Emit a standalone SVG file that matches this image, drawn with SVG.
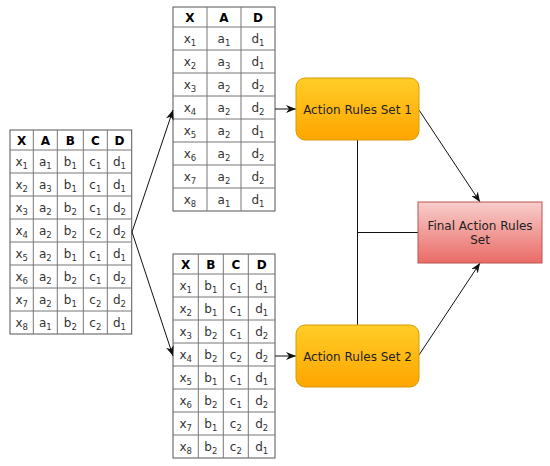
<svg xmlns="http://www.w3.org/2000/svg" width="550" height="466" viewBox="0 0 550 466">
<defs>
<style>
.tb{fill:#fff;stroke:#555;stroke-width:1}
.gl{stroke:#777;stroke-width:1}
.h{font-family:"DejaVu Sans",Verdana,sans-serif;font-size:12px;font-weight:bold;fill:#000;text-anchor:middle}
.c{font-family:"DejaVu Sans",Verdana,sans-serif;font-size:12px;fill:#333;text-anchor:middle}
.s{font-size:8.5px}
.lbl{font-family:"DejaVu Sans",Verdana,sans-serif;font-size:12px;fill:#222;text-anchor:middle}
.cn{fill:none;stroke:#111;stroke-width:1}
</style>
<linearGradient id="gO" x1="0" y1="0" x2="0" y2="1"><stop offset="0" stop-color="#ffcd28"/><stop offset="1" stop-color="#ffa500"/></linearGradient>
<linearGradient id="gR" x1="0" y1="0" x2="0" y2="1"><stop offset="0" stop-color="#f8cecc"/><stop offset="1" stop-color="#ea6b66"/></linearGradient>
<marker id="arr" viewBox="0 0 10 8" refX="10" refY="4" markerWidth="10" markerHeight="8" orient="auto" markerUnits="userSpaceOnUse"><path d="M0,0 L10,4 L0,8 L3,4 z" fill="#111"/></marker>
</defs>

<g id="table-full">
<rect class="tb" x="10" y="130" width="121.7" height="204"/>
<path class="gl" d="M33.3,130V334M57.3,130V334M83.3,130V334M107.3,130V334M10,150H131.7M10,173H131.7M10,196H131.7M10,219H131.7M10,242H131.7M10,265H131.7M10,288H131.7M10,311H131.7"/>
<text class="h" x="21.7" y="144.5">X</text><text class="h" x="45.3" y="144.5">A</text><text class="h" x="70.3" y="144.5">B</text><text class="h" x="95.3" y="144.5">C</text><text class="h" x="119.5" y="144.5">D</text>
<text class="c" x="21.7" y="165.5">x<tspan class="s" dy="3">1</tspan></text><text class="c" x="45.3" y="165.5">a<tspan class="s" dy="3">1</tspan></text><text class="c" x="70.3" y="165.5">b<tspan class="s" dy="3">1</tspan></text><text class="c" x="95.3" y="165.5">c<tspan class="s" dy="3">1</tspan></text><text class="c" x="119.5" y="165.5">d<tspan class="s" dy="3">1</tspan></text>
<text class="c" x="21.7" y="188.5">x<tspan class="s" dy="3">2</tspan></text><text class="c" x="45.3" y="188.5">a<tspan class="s" dy="3">3</tspan></text><text class="c" x="70.3" y="188.5">b<tspan class="s" dy="3">1</tspan></text><text class="c" x="95.3" y="188.5">c<tspan class="s" dy="3">1</tspan></text><text class="c" x="119.5" y="188.5">d<tspan class="s" dy="3">1</tspan></text>
<text class="c" x="21.7" y="211.5">x<tspan class="s" dy="3">3</tspan></text><text class="c" x="45.3" y="211.5">a<tspan class="s" dy="3">2</tspan></text><text class="c" x="70.3" y="211.5">b<tspan class="s" dy="3">2</tspan></text><text class="c" x="95.3" y="211.5">c<tspan class="s" dy="3">1</tspan></text><text class="c" x="119.5" y="211.5">d<tspan class="s" dy="3">2</tspan></text>
<text class="c" x="21.7" y="234.5">x<tspan class="s" dy="3">4</tspan></text><text class="c" x="45.3" y="234.5">a<tspan class="s" dy="3">2</tspan></text><text class="c" x="70.3" y="234.5">b<tspan class="s" dy="3">2</tspan></text><text class="c" x="95.3" y="234.5">c<tspan class="s" dy="3">2</tspan></text><text class="c" x="119.5" y="234.5">d<tspan class="s" dy="3">2</tspan></text>
<text class="c" x="21.7" y="257.5">x<tspan class="s" dy="3">5</tspan></text><text class="c" x="45.3" y="257.5">a<tspan class="s" dy="3">2</tspan></text><text class="c" x="70.3" y="257.5">b<tspan class="s" dy="3">1</tspan></text><text class="c" x="95.3" y="257.5">c<tspan class="s" dy="3">1</tspan></text><text class="c" x="119.5" y="257.5">d<tspan class="s" dy="3">1</tspan></text>
<text class="c" x="21.7" y="280.5">x<tspan class="s" dy="3">6</tspan></text><text class="c" x="45.3" y="280.5">a<tspan class="s" dy="3">2</tspan></text><text class="c" x="70.3" y="280.5">b<tspan class="s" dy="3">2</tspan></text><text class="c" x="95.3" y="280.5">c<tspan class="s" dy="3">1</tspan></text><text class="c" x="119.5" y="280.5">d<tspan class="s" dy="3">2</tspan></text>
<text class="c" x="21.7" y="303.5">x<tspan class="s" dy="3">7</tspan></text><text class="c" x="45.3" y="303.5">a<tspan class="s" dy="3">2</tspan></text><text class="c" x="70.3" y="303.5">b<tspan class="s" dy="3">1</tspan></text><text class="c" x="95.3" y="303.5">c<tspan class="s" dy="3">2</tspan></text><text class="c" x="119.5" y="303.5">d<tspan class="s" dy="3">2</tspan></text>
<text class="c" x="21.7" y="326.5">x<tspan class="s" dy="3">8</tspan></text><text class="c" x="45.3" y="326.5">a<tspan class="s" dy="3">1</tspan></text><text class="c" x="70.3" y="326.5">b<tspan class="s" dy="3">2</tspan></text><text class="c" x="95.3" y="326.5">c<tspan class="s" dy="3">2</tspan></text><text class="c" x="119.5" y="326.5">d<tspan class="s" dy="3">1</tspan></text>
</g>

<g id="table-xad">
<rect class="tb" x="173" y="7" width="102" height="204"/>
<path class="gl" d="M207,7V211M241,7V211M173,27H275M173,50H275M173,73H275M173,96H275M173,119H275M173,142H275M173,165H275M173,188H275"/>
<text class="h" x="190" y="21.5">X</text><text class="h" x="224" y="21.5">A</text><text class="h" x="258" y="21.5">D</text>
<text class="c" x="190" y="42.5">x<tspan class="s" dy="3">1</tspan></text><text class="c" x="224" y="42.5">a<tspan class="s" dy="3">1</tspan></text><text class="c" x="258" y="42.5">d<tspan class="s" dy="3">1</tspan></text>
<text class="c" x="190" y="65.5">x<tspan class="s" dy="3">2</tspan></text><text class="c" x="224" y="65.5">a<tspan class="s" dy="3">3</tspan></text><text class="c" x="258" y="65.5">d<tspan class="s" dy="3">1</tspan></text>
<text class="c" x="190" y="88.5">x<tspan class="s" dy="3">3</tspan></text><text class="c" x="224" y="88.5">a<tspan class="s" dy="3">2</tspan></text><text class="c" x="258" y="88.5">d<tspan class="s" dy="3">2</tspan></text>
<text class="c" x="190" y="111.5">x<tspan class="s" dy="3">4</tspan></text><text class="c" x="224" y="111.5">a<tspan class="s" dy="3">2</tspan></text><text class="c" x="258" y="111.5">d<tspan class="s" dy="3">2</tspan></text>
<text class="c" x="190" y="134.5">x<tspan class="s" dy="3">5</tspan></text><text class="c" x="224" y="134.5">a<tspan class="s" dy="3">2</tspan></text><text class="c" x="258" y="134.5">d<tspan class="s" dy="3">1</tspan></text>
<text class="c" x="190" y="157.5">x<tspan class="s" dy="3">6</tspan></text><text class="c" x="224" y="157.5">a<tspan class="s" dy="3">2</tspan></text><text class="c" x="258" y="157.5">d<tspan class="s" dy="3">2</tspan></text>
<text class="c" x="190" y="180.5">x<tspan class="s" dy="3">7</tspan></text><text class="c" x="224" y="180.5">a<tspan class="s" dy="3">2</tspan></text><text class="c" x="258" y="180.5">d<tspan class="s" dy="3">2</tspan></text>
<text class="c" x="190" y="203.5">x<tspan class="s" dy="3">8</tspan></text><text class="c" x="224" y="203.5">a<tspan class="s" dy="3">1</tspan></text><text class="c" x="258" y="203.5">d<tspan class="s" dy="3">1</tspan></text>
</g>

<g id="table-xbcd">
<rect class="tb" x="173" y="254" width="102" height="204"/>
<path class="gl" d="M198.3,254V458M223.3,254V458M248.3,254V458M173,274H275M173,297H275M173,320H275M173,343H275M173,366H275M173,389H275M173,412H275M173,435H275"/>
<text class="h" x="185.7" y="268.5">X</text><text class="h" x="210.8" y="268.5">B</text><text class="h" x="235.8" y="268.5">C</text><text class="h" x="261.7" y="268.5">D</text>
<text class="c" x="185.7" y="289.5">x<tspan class="s" dy="3">1</tspan></text><text class="c" x="210.8" y="289.5">b<tspan class="s" dy="3">1</tspan></text><text class="c" x="235.8" y="289.5">c<tspan class="s" dy="3">1</tspan></text><text class="c" x="261.7" y="289.5">d<tspan class="s" dy="3">1</tspan></text>
<text class="c" x="185.7" y="312.5">x<tspan class="s" dy="3">2</tspan></text><text class="c" x="210.8" y="312.5">b<tspan class="s" dy="3">1</tspan></text><text class="c" x="235.8" y="312.5">c<tspan class="s" dy="3">1</tspan></text><text class="c" x="261.7" y="312.5">d<tspan class="s" dy="3">1</tspan></text>
<text class="c" x="185.7" y="335.5">x<tspan class="s" dy="3">3</tspan></text><text class="c" x="210.8" y="335.5">b<tspan class="s" dy="3">2</tspan></text><text class="c" x="235.8" y="335.5">c<tspan class="s" dy="3">1</tspan></text><text class="c" x="261.7" y="335.5">d<tspan class="s" dy="3">2</tspan></text>
<text class="c" x="185.7" y="358.5">x<tspan class="s" dy="3">4</tspan></text><text class="c" x="210.8" y="358.5">b<tspan class="s" dy="3">2</tspan></text><text class="c" x="235.8" y="358.5">c<tspan class="s" dy="3">2</tspan></text><text class="c" x="261.7" y="358.5">d<tspan class="s" dy="3">2</tspan></text>
<text class="c" x="185.7" y="381.5">x<tspan class="s" dy="3">5</tspan></text><text class="c" x="210.8" y="381.5">b<tspan class="s" dy="3">1</tspan></text><text class="c" x="235.8" y="381.5">c<tspan class="s" dy="3">1</tspan></text><text class="c" x="261.7" y="381.5">d<tspan class="s" dy="3">1</tspan></text>
<text class="c" x="185.7" y="404.5">x<tspan class="s" dy="3">6</tspan></text><text class="c" x="210.8" y="404.5">b<tspan class="s" dy="3">2</tspan></text><text class="c" x="235.8" y="404.5">c<tspan class="s" dy="3">1</tspan></text><text class="c" x="261.7" y="404.5">d<tspan class="s" dy="3">2</tspan></text>
<text class="c" x="185.7" y="427.5">x<tspan class="s" dy="3">7</tspan></text><text class="c" x="210.8" y="427.5">b<tspan class="s" dy="3">1</tspan></text><text class="c" x="235.8" y="427.5">c<tspan class="s" dy="3">2</tspan></text><text class="c" x="261.7" y="427.5">d<tspan class="s" dy="3">2</tspan></text>
<text class="c" x="185.7" y="450.5">x<tspan class="s" dy="3">8</tspan></text><text class="c" x="210.8" y="450.5">b<tspan class="s" dy="3">2</tspan></text><text class="c" x="235.8" y="450.5">c<tspan class="s" dy="3">2</tspan></text><text class="c" x="261.7" y="450.5">d<tspan class="s" dy="3">1</tspan></text>
</g>

<g id="connectors">
<path class="cn" d="M132,232L173,110" marker-end="url(#arr)"/>
<path class="cn" d="M132,232L173,356" marker-end="url(#arr)"/>
<path class="cn" d="M275,109H296" marker-end="url(#arr)"/>
<path class="cn" d="M275,356H296" marker-end="url(#arr)"/>
<path class="cn" d="M419,110L480,202" marker-end="url(#arr)"/>
<path class="cn" d="M419,355L480,263" marker-end="url(#arr)"/>
<path class="cn" d="M357.5,140V325M357.5,232.5H418"/>
</g>

<g id="action-rules-1">
<rect x="296" y="78" width="123" height="62" rx="9" fill="url(#gO)" stroke="#d79b00"/>
<text class="lbl" x="357.5" y="113.5">Action Rules Set 1</text>
</g>

<g id="action-rules-2">
<rect x="296" y="325" width="123" height="62" rx="9" fill="url(#gO)" stroke="#d79b00"/>
<text class="lbl" x="357.5" y="360.5">Action Rules Set 2</text>
</g>

<g id="final-action-rules">
<rect x="418" y="202" width="124" height="61" fill="url(#gR)" stroke="#b85450"/>
<text class="lbl" x="480" y="230">Final Action Rules</text>
<text class="lbl" x="480" y="244">Set</text>
</g>
</svg>
